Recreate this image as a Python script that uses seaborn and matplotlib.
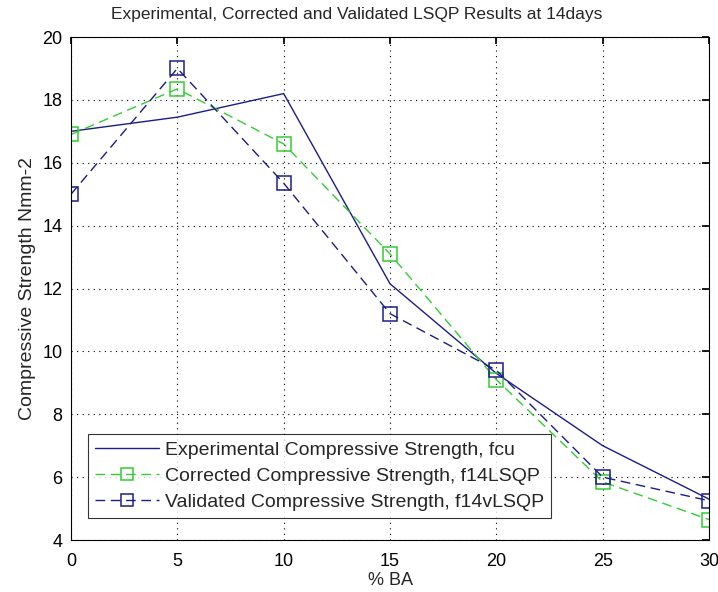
import matplotlib
matplotlib.use("Agg")
import matplotlib.pyplot as plt
import seaborn as sns

# Valores (resistencia a compresión a 14 días)
pct_ba = [0, 5, 10, 15, 20, 25, 30]
fcu = [17.0, 17.45, 18.2, 12.15, 9.3, 7.0, 5.3]
f14_lsqp = [16.9, 18.35, 16.6, 13.1, 9.1, 5.85, 4.65]
f14v_lsqp = [15.0, 19.0, 15.35, 11.2, 9.4, 6.0, 5.25]

labels = [
    "Experimental Compressive Strength, fcu",
    "Corrected Compressive Strength, f14LSQP",
    "Validated Compressive Strength, f14vLSQP",
]

sns.set_theme(style="white")
plt.rcParams['font.family'] = ['Liberation Sans', 'DejaVu Sans']

fig = plt.figure(figsize=(7.18, 5.92), dpi=100)
ax = fig.add_axes([0.0989, 0.0878, 0.8886, 0.8497])

navy = "#1c1c8a"
green = "#33cc33"

sns.lineplot(x=pct_ba, y=fcu, color=navy, linewidth=1.0, label=labels[0], ax=ax)
sns.lineplot(x=pct_ba, y=f14_lsqp, color=green, linewidth=1.0,
             linestyle=(0, (7, 4)), marker="s", markersize=9.5,
             markerfacecolor="none", markeredgecolor=green, markeredgewidth=1.1,
             label=labels[1], ax=ax)
sns.lineplot(x=pct_ba, y=f14v_lsqp, color=navy, linewidth=1.0,
             linestyle=(0, (7, 4)), marker="s", markersize=9.5,
             markerfacecolor="none", markeredgecolor=navy, markeredgewidth=1.1,
             label=labels[2], ax=ax)

ax.set_xlim(0, 30)
ax.set_ylim(4, 20)
ax.set_xticks(range(0, 31, 5))
ax.set_yticks(range(4, 21, 2))
ax.grid(True, color="black", linestyle=(0, (1, 4)), linewidth=0.8)
ax.tick_params(direction="in", top=True, right=True, labelsize=13,
               length=5, color="black", labelcolor="black", pad=6)
ax.tick_params(axis="x", pad=9)
for s in ax.spines.values():
    s.set_color("black")
    s.set_linewidth(0.8)

# Título centrado sobre la figura, como en el original
fig.text(0.497, 0.975, "Experimental, Corrected and Validated LSQP Results at 14days",
         fontsize=12.5, ha="center", va="center")
ax.set_xlabel("% BA", fontsize=13, labelpad=2)
ax.set_ylabel("Compressive Strength Nmm-2", fontsize=14, labelpad=5)

leg = ax.legend(loc="lower left", bbox_to_anchor=(0.0266, 0.0437), fontsize=14,
                frameon=True, fancybox=False, edgecolor="black",
                handlelength=3.3, handletextpad=0.3, borderpad=0.35,
                borderaxespad=0, labelspacing=0.45, markerscale=0.85)
leg.get_frame().set_linewidth(0.8)
for h in leg.get_lines():
    h.set_markerfacecolor("none")

fig.savefig("out.png", dpi=100)
